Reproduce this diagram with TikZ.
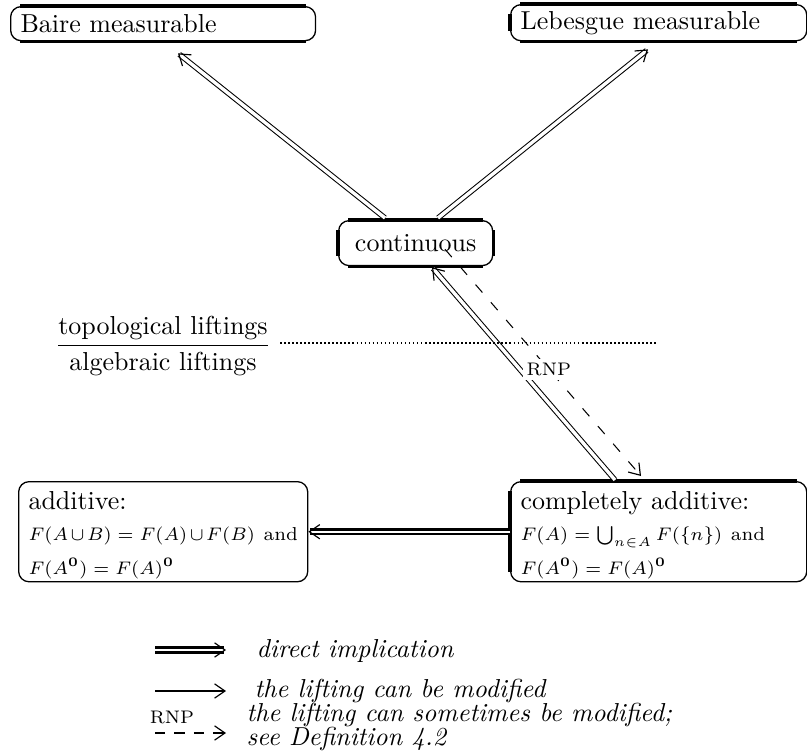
\documentclass[tikz,border=0pt]{standalone}
\usepackage{amsmath}
\usepackage{amssymb}
\usepackage{tikz}
\usetikzlibrary{arrows.meta, calc}

\newcommand{\boxfont}{\fontsize{7.2pt}{9pt}\selectfont}

\tikzset{
  propbox/.style={draw, line width=0.5pt, rounded corners=4pt, inner xsep=3.8pt, inner ysep=1pt, anchor=north west, align=left},
  boxedge/.style={line width=1.3pt},
  barb/.style={-{Straight Barb[length=4pt, width=5.5pt, line width=0.45pt]}},
  thinimp/.style={barb, double, line width=0.4pt, double distance=1.3pt},
  directimp/.style={barb, double, line width=1pt, double distance=0.8pt},
  modimp/.style={barb, line width=1pt},
  rnpimp/.style={barb, line width=0.4pt, dash pattern=on 4pt off 5pt},
  rnplabel/.style={font=\scriptsize, inner sep=1pt},
  legendtext/.style={font=\itshape, anchor=west, align=left, inner sep=0pt}
}

\begin{document}
\begin{tikzpicture}[x=0.385pt, y=-0.385pt]
  \useasboundingbox (0,0) rectangle (807,751);

  % --- Properties of the liftings ---
  \node[propbox, text width=109.8pt, minimum height=13.1pt] (baire) at (10,6) {Baire measurable};
  \node[propbox, text width=106.4pt, minimum height=13.9pt] (lebesgue) at (510,4) {Lebesgue measurable};
  \node[propbox, align=center, text width=51.7pt, minimum height=17.3pt] (cont) at (338,220) {continuous};
  \node[propbox, text width=103.7pt, minimum height=38.1pt] (add) at (18,481)
       {\rule{0pt}{9.6pt}additive:\\[3pt]
        \boxfont $F(A\cup B)=F(A)\cup F(B)$ and\\[1.2pt]
        \boxfont $F(A^{\mathbf{0}})=F(A)^{\mathbf{0}}$};
  \node[propbox, text width=106.4pt, minimum height=38.1pt] (cadd) at (510,481)
       {\rule{0pt}{9.6pt}completely additive:\\[3pt]
        \boxfont $F(A)=\textstyle\bigcup_{n\in A}F(\{n\})$ and\\[1.2pt]
        \boxfont $F(A^{\mathbf{0}})=F(A)^{\mathbf{0}}$};

  % heavy straight edges of the frames
  \draw[boxedge] ([xshift=4pt]baire.north west) -- ([xshift=-4pt]baire.north east)
                 ([xshift=4pt]baire.south west) -- ([xshift=-4pt]baire.south east);
  \draw[boxedge] ([xshift=4pt]lebesgue.north west) -- ([xshift=-4pt]lebesgue.north east)
                 ([xshift=4pt]lebesgue.south west) -- ([xshift=-4pt]lebesgue.south east)
                 ([yshift=-4pt]lebesgue.north west) -- ([yshift=4pt]lebesgue.south west);
  \draw[boxedge] ([xshift=4pt]cont.north west) -- ([xshift=-4pt]cont.north east)
                 ([xshift=4pt]cont.south west) -- ([xshift=-4pt]cont.south east)
                 ([yshift=-4pt]cont.north west) -- ([yshift=4pt]cont.south west)
                 ([yshift=-4pt]cont.north east) -- ([yshift=4pt]cont.south east);
  \draw[boxedge] ([xshift=4pt]cadd.north west) -- ([xshift=-4pt]cadd.north east)
                 ([yshift=-4pt]cadd.north west) -- ([yshift=4pt]cadd.south west);

  % --- Implications ---
  \draw[thinimp] ($(cont.north west)+(47,-2)$) -- ($(baire.south west)+(168,12)$);
  \draw[thinimp] ($(cont.north west)+(100,-2)$) -- ($(lebesgue.south west)+(138,8)$);
  \draw[thinimp] ($(cadd.north west)+(105,-1)$) -- ($(cont.south west)+(94,1)$);
  \draw[rnpimp] ($(cont.south west)+(107,-17)$) -- ($(cadd.north west)+(131,-5)$)
       node[rnplabel, pos=0.53, fill=white, inner sep=1.5pt] (rnp) {RNP};
  \draw[directimp] (cadd.west) -- (add.east);

  % --- Separation of the two kinds of liftings ---
  \node (level) at (163,346) {$\dfrac{\mbox{topological liftings}}{\mbox{algebraic liftings}}$};
  \coordinate (levelend) at (658,343);
  \draw[line width=0.6pt, dash pattern=on 0.6pt off 0.95pt] (level.east |- levelend) -- (levelend);

  % --- Legend ---
  \coordinate (leg1a) at (155,650);
  \coordinate (leg1b) at (226,650);
  \coordinate (leg2a) at (155,691);
  \coordinate (leg2b) at (226,691);
  \coordinate (leg3a) at (155,733);
  \coordinate (leg3b) at (226,733);
  \draw[directimp] (leg1a) -- (leg1b);
  \draw[modimp] (leg2a) -- (leg2b);
  \draw[rnpimp, dash pattern=on 4pt off 3.5pt] (leg3a) -- (leg3b);
  \node[rnplabel] (legrnp) at (172,717) {RNP};
  \node[legendtext] (legtext1) at (256,651) {direct implication};
  \node[legendtext] (legtext2) at (254,691) {the lifting can be modified};
  \node[legendtext] (legtext3) at (246,727) {the lifting can sometimes be modified;\\[-2.9pt]see Definition 4.2};
\end{tikzpicture}
\end{document}
